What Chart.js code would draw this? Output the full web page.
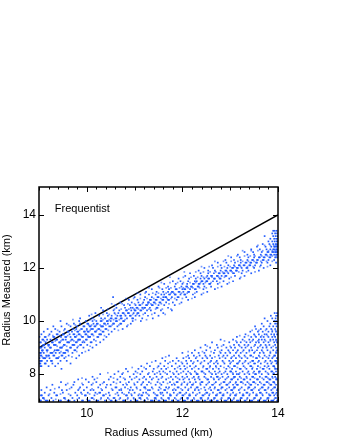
<!DOCTYPE html>
<html>
<head>
<meta charset="utf-8">
<style>
  html, body { margin: 0; padding: 0; background: #fff; }
  #wrap { width: 340px; height: 440px; }
</style>
<script src="https://cdn.jsdelivr.net/npm/chart.js@4/dist/chart.umd.min.js"></script>
</head>
<body>
<div id="wrap"><canvas id="c"></canvas></div>
<script>
const xTicks = [10, 12, 14];
const yTicks = [8, 10, 12, 14];
const xTitle = 'Radius Assumed (km)';
const yTitle = 'Radius Measured (km)';
const panelLabel = 'Frequentist';
const lineX = [9, 14];
const lineY = [9, 14];

// the measured radius comes in rows, so each cloud is kept per row:
// one measured value and the assumed values seen on that row
const bandRowY = [8.3,8.4,8.5,8.6,8.7,8.8,8.9,9.0,9.1,9.2,9.3,9.4,9.5,9.6,9.7,9.8,9.9,10.0,10.1,10.2,10.3,10.4,10.5,10.6,10.7,10.8,10.9,11.0,11.1,11.2,11.3,11.4,11.5,11.6,11.7,11.8,11.9,12.0,12.1,12.2,12.3,12.4,12.5,12.6,12.7,12.8,12.9,13.0,13.1,13.2,13.3,13.4];
const bandRowX = [
[9.03,9.05,9.2,9.34],
[9.01,9.03,9.12,9.14,9.28,9.4,9.66],
[9.02,9.04,9.06,9.17,9.25,9.27,9.45,9.58],
[9.01,9.09,9.11,9.13,9.22,9.36,9.38,9.4,9.53,9.78],
[9.03,9.05,9.15,9.19,9.21,9.3,9.32,9.47,9.49,9.62,9.84],
[9.02,9.04,9.1,9.24,9.26,9.28,9.35,9.43,9.51,9.53,9.55,9.7,9.9],
[9.06,9.08,9.16,9.18,9.33,9.37,9.39,9.41,9.57,9.6,9.74,9.76,10.04],
[9.01,9.03,9.05,9.12,9.23,9.25,9.44,9.46,9.48,9.65,9.67,9.8,9.93,10.12],
[9.09,9.11,9.19,9.21,9.31,9.33,9.35,9.52,9.54,9.7,9.72,9.74,9.86,9.88,10.01,10.2],
[9.02,9.04,9.14,9.27,9.29,9.42,9.44,9.59,9.61,9.63,9.77,9.79,9.91,9.95,10.08,10.1,10.28],
[9.07,9.09,9.17,9.24,9.36,9.38,9.49,9.51,9.56,9.68,9.7,9.82,9.84,9.86,9.98,10.0,10.15,10.35],
[9.01,9.12,9.14,9.3,9.32,9.46,9.55,9.57,9.66,9.75,9.77,9.9,9.92,10.03,10.05,10.07,10.22,10.24,10.41],
[9.05,9.22,9.37,9.39,9.5,9.52,9.64,9.72,9.74,9.83,9.85,9.97,9.99,10.1,10.12,10.26,10.28,10.3,10.46],
[9.1,9.26,9.43,9.6,9.62,9.69,9.8,9.82,9.94,9.96,10.02,10.04,10.17,10.19,10.33,10.35,10.52],
[9.18,9.34,9.54,9.71,9.78,9.88,9.9,10.0,10.09,10.11,10.13,10.24,10.26,10.39,10.41,10.58,10.75],
[9.3,9.47,9.66,9.8,9.93,9.95,10.06,10.08,10.16,10.18,10.3,10.32,10.34,10.47,10.5,10.64,10.84],
[9.58,9.73,9.86,10.01,10.03,10.14,10.21,10.23,10.36,10.38,10.44,10.55,10.57,10.7,10.72,10.92],
[9.45,9.84,9.98,10.12,10.2,10.29,10.31,10.42,10.44,10.5,10.61,10.63,10.76,10.78,10.96,11.13],
[9.86,10.12,10.3,10.38,10.5,10.52,10.6,10.62,10.71,10.73,10.84,10.95,10.97,11.16,11.38],
[10.05,10.26,10.44,10.52,10.64,10.7,10.72,10.81,10.9,10.92,11.02,11.1,11.28,11.5],
[10.18,10.42,10.58,10.66,10.75,10.77,10.86,10.88,10.98,11.06,11.08,11.22,11.42,11.6],
[10.34,10.56,10.68,10.82,10.84,10.93,11.0,11.02,11.12,11.14,11.26,11.34,11.55,11.78],
[10.3,10.62,10.8,10.92,10.96,11.04,11.06,11.16,11.2,11.22,11.32,11.46,11.48,11.7],
[10.6,10.78,10.9,11.02,11.1,11.12,11.24,11.26,11.36,11.38,11.5,11.62,11.84],
[10.7,10.94,11.08,11.18,11.28,11.3,11.4,11.42,11.52,11.54,11.66,11.8,11.98],
[10.88,11.06,11.2,11.32,11.34,11.44,11.46,11.58,11.6,11.7,11.72,11.88,12.12],
[10.55,11.0,11.22,11.36,11.48,11.5,11.6,11.64,11.66,11.78,11.9,11.92,12.08,12.26],
[11.12,11.3,11.44,11.56,11.62,11.72,11.74,11.84,11.86,11.96,12.04,12.06,12.22,12.4],
[11.24,11.46,11.6,11.7,11.78,11.8,11.92,11.94,12.02,12.12,12.14,12.3,12.52],
[11.36,11.58,11.72,11.86,11.88,12.0,12.04,12.06,12.16,12.26,12.28,12.44,12.68],
[11.5,11.7,11.84,11.98,12.08,12.1,12.18,12.2,12.32,12.34,12.46,12.6,12.82],
[11.62,11.86,12.0,12.1,12.22,12.24,12.34,12.36,12.44,12.56,12.58,12.74,12.94],
[11.8,11.96,12.12,12.26,12.3,12.4,12.42,12.5,12.52,12.64,12.72,12.86,13.06],
[11.92,12.14,12.28,12.38,12.46,12.54,12.56,12.66,12.68,12.78,12.8,12.98,13.2],
[12.06,12.24,12.4,12.52,12.6,12.62,12.72,12.74,12.82,12.9,12.92,13.1,13.3],
[12.16,12.38,12.54,12.66,12.76,12.78,12.86,12.88,12.96,13.06,13.08,13.24,13.44],
[12.34,12.54,12.68,12.8,12.9,12.92,13.0,13.02,13.12,13.14,13.26,13.38,13.6],
[12.46,12.64,12.82,12.94,13.04,13.06,13.14,13.16,13.24,13.34,13.36,13.5,13.7],
[12.62,12.8,12.96,13.08,13.18,13.2,13.28,13.3,13.4,13.42,13.52,13.64,13.84],
[12.74,12.92,13.1,13.22,13.32,13.34,13.42,13.44,13.54,13.56,13.66,13.78,13.96],
[12.9,13.08,13.22,13.36,13.46,13.48,13.56,13.58,13.68,13.7,13.8,13.92],
[13.02,13.2,13.38,13.5,13.6,13.62,13.7,13.72,13.82,13.84,13.94,13.98],
[13.16,13.36,13.5,13.64,13.74,13.76,13.84,13.86,13.92,13.96,13.99],
[13.3,13.48,13.66,13.78,13.8,13.88,13.9,13.94,13.97,13.99],
[13.44,13.62,13.76,13.84,13.9,13.92,13.96,13.98],
[13.56,13.74,13.86,13.92,13.94,13.97,13.99],
[13.68,13.82,13.9,13.95,13.98],
[13.8,13.88,13.93,13.97,13.99],
[13.84,13.92,13.96,13.98],
[13.72,13.9,13.95,13.99],
[13.88,13.94,13.98],
[13.9,13.93,13.97]
];

// fainter in-between rows of the upper cloud
const bandMidRowY = [8.65,8.85,9.05,9.25,9.45,9.65,9.85,10.05,10.25,10.45,10.65,10.85,11.05,11.25,11.45,11.65,11.85,12.05,12.25,12.45,12.65,12.85];
const bandMidRowX = [
[9.07,9.16,9.42,9.56,9.69],
[9.07,9.17,9.31,9.46,9.61,9.79,9.97],
[9.08,9.2,9.38,9.5,9.58,9.82,10.07],
[9.11,9.34,9.46,9.66,9.73,9.81,9.93,10.19],
[9.2,9.29,9.44,9.6,9.79,9.88,10.02,10.14,10.37],
[9.39,9.52,9.75,9.85,10.0,10.07,10.21,10.29,10.45,10.66],
[9.62,9.76,10.04,10.1,10.2,10.28,10.4,10.53,10.67,10.86],
[9.71,10.07,10.16,10.34,10.47,10.56,10.68,10.8,11.02,11.25],
[10.1,10.34,10.47,10.6,10.79,10.96,11.05,11.18,11.36,11.64],
[10.44,10.58,10.72,10.88,10.99,11.08,11.18,11.3,11.44,11.58,11.76],
[10.52,10.74,10.86,11.0,11.16,11.28,11.34,11.44,11.56,11.72,11.94],
[10.82,10.98,11.12,11.26,11.4,11.55,11.68,11.76,11.84,12.0,12.2],
[11.06,11.22,11.38,11.5,11.66,11.76,11.82,11.98,12.1,12.26,12.44],
[11.3,11.52,11.66,11.76,11.94,12.02,12.12,12.22,12.36,12.5,12.74],
[11.56,11.74,11.9,12.02,12.16,12.28,12.38,12.48,12.6,12.78,12.98],
[11.74,12.02,12.18,12.32,12.44,12.5,12.62,12.76,12.88,13.02,13.22],
[12.04,12.28,12.44,12.58,12.7,12.84,12.94,13.04,13.18,13.34,13.52],
[12.4,12.56,12.74,12.88,13.0,13.1,13.22,13.36,13.48,13.62,13.78],
[12.68,12.86,13.02,13.16,13.26,13.38,13.5,13.64,13.76,13.88],
[12.96,13.14,13.3,13.42,13.52,13.66,13.78,13.88,13.96],
[13.26,13.44,13.58,13.68,13.8,13.88,13.94,13.98],
[13.58,13.72,13.84,13.91,13.96,13.99]
];

const lowRowY = [7.0,7.1,7.2,7.3,7.4,7.5,7.6,7.7,7.8,7.9,8.0,8.1,8.2,8.3,8.4,8.5,8.6,8.7,8.8,8.9,9.0,9.1,9.2,9.3,9.4,9.5,9.6,9.7,9.8,9.9,10.0,10.1,10.2,10.3];
const lowRowX = [
[9.02,9.04,9.14,9.16,9.18,9.3,9.44,9.46,9.6,9.62,9.64,9.74,9.9,9.92,10.04,10.06,10.2,10.22,10.24,10.38,10.5,10.52,10.6,10.62,10.76,10.78,10.8,10.92,11.02,11.04,11.06,11.2,11.22,11.34,11.36,11.38,11.5,11.52,11.62,11.64,11.66,11.78,11.8,11.9,11.92,12.02,12.04,12.06,12.18,12.2,12.3,12.32,12.34,12.46,12.48,12.58,12.6,12.62,12.72,12.74,12.88,12.9,12.92,13.02,13.04,13.14,13.16,13.18,13.3,13.32,13.42,13.44,13.46,13.58,13.6,13.7,13.72,13.74,13.86,13.88,13.9,13.98],
[9.08,9.1,9.26,9.52,9.54,9.7,9.84,10.1,10.12,10.3,10.44,10.56,10.58,10.7,10.86,10.98,11.1,11.12,11.26,11.42,11.44,11.56,11.7,11.72,11.84,11.98,12.1,12.12,12.24,12.38,12.4,12.54,12.66,12.68,12.82,12.96,12.98,13.08,13.22,13.24,13.36,13.5,13.52,13.64,13.78,13.8,13.94,13.96],
[9.04,9.06,9.2,9.36,9.38,9.66,9.8,9.96,9.98,10.16,10.34,10.36,10.48,10.66,10.82,10.84,10.94,11.08,11.14,11.16,11.3,11.46,11.48,11.6,11.74,11.76,11.88,12.0,12.02,12.14,12.16,12.28,12.42,12.44,12.56,12.7,12.72,12.84,12.86,13.0,13.1,13.12,13.26,13.28,13.4,13.54,13.56,13.68,13.82,13.84,13.92,13.99],
[9.12,9.32,9.5,9.76,9.88,10.02,10.18,10.26,10.28,10.46,10.64,10.74,10.88,11.0,11.18,11.24,11.4,11.54,11.58,11.68,11.82,11.94,11.96,12.08,12.22,12.36,12.5,12.52,12.64,12.78,12.8,12.94,13.06,13.2,13.34,13.36,13.48,13.62,13.64,13.76,13.88,13.9,13.97],
[9.05,9.24,9.48,9.58,9.82,9.94,10.08,10.14,10.32,10.54,10.68,10.72,10.9,10.96,11.12,11.28,11.32,11.5,11.62,11.64,11.8,11.86,12.0,12.12,12.26,12.34,12.48,12.6,12.74,12.76,12.9,13.02,13.04,13.18,13.3,13.44,13.46,13.6,13.72,13.74,13.86,13.98],
[9.16,9.42,9.68,9.86,10.0,10.24,10.4,10.6,10.62,10.8,10.92,11.04,11.2,11.22,11.36,11.52,11.66,11.72,11.9,11.92,12.06,12.18,12.3,12.32,12.46,12.58,12.68,12.82,12.84,12.98,13.08,13.1,13.24,13.38,13.4,13.52,13.66,13.68,13.8,13.92,13.94],
[9.28,9.56,9.72,9.92,10.1,10.28,10.42,10.5,10.76,10.84,11.0,11.14,11.26,11.44,11.56,11.78,11.84,11.98,12.1,12.2,12.22,12.38,12.5,12.62,12.64,12.78,12.92,12.94,13.06,13.14,13.16,13.32,13.42,13.44,13.58,13.7,13.72,13.84,13.86,13.96],
[9.46,9.74,10.04,10.2,10.36,10.56,10.7,10.88,11.06,11.18,11.3,11.48,11.6,11.74,11.88,11.9,12.04,12.16,12.28,12.4,12.42,12.56,12.7,12.86,12.88,13.0,13.12,13.22,13.24,13.36,13.48,13.5,13.62,13.76,13.78,13.9,13.92],
[9.82,9.98,10.16,10.46,10.64,10.8,10.94,11.1,11.24,11.36,11.5,11.66,11.8,11.94,12.02,12.14,12.26,12.36,12.52,12.54,12.66,12.76,12.9,13.02,13.04,13.16,13.28,13.3,13.42,13.56,13.58,13.7,13.82,13.84,13.96,13.98],
[10.12,10.5,10.7,10.9,11.04,11.2,11.32,11.46,11.58,11.76,11.86,12.0,12.1,12.24,12.34,12.46,12.6,12.72,12.74,12.84,12.96,13.08,13.1,13.2,13.34,13.46,13.48,13.62,13.74,13.76,13.88,13.94],
[10.28,10.58,10.74,10.98,11.12,11.28,11.42,11.54,11.68,11.82,11.92,12.08,12.18,12.3,12.32,12.48,12.62,12.7,12.82,12.94,13.06,13.14,13.18,13.3,13.4,13.52,13.54,13.66,13.8,13.9,13.92,13.99],
[10.66,10.86,11.02,11.16,11.38,11.52,11.6,11.74,11.88,12.02,12.12,12.26,12.4,12.42,12.56,12.68,12.78,12.9,13.0,13.02,13.12,13.26,13.38,13.5,13.6,13.62,13.74,13.86,13.88,13.96],
[9.47,10.82,11.08,11.24,11.4,11.56,11.66,11.84,11.96,12.06,12.2,12.34,12.5,12.52,12.64,12.76,12.92,13.04,13.2,13.22,13.34,13.46,13.56,13.68,13.7,13.82,13.94,13.98],
[11.14,11.32,11.5,11.62,11.78,11.94,12.04,12.16,12.28,12.44,12.58,12.7,12.8,12.96,13.08,13.1,13.28,13.42,13.44,13.58,13.72,13.8,13.9,13.92],
[11.26,11.54,11.7,11.86,12.0,12.1,12.22,12.38,12.54,12.66,12.74,12.88,13.0,13.14,13.16,13.26,13.38,13.5,13.52,13.64,13.78,13.86,13.97],
[11.44,11.64,11.8,11.92,12.08,12.18,12.32,12.46,12.6,12.72,12.84,12.98,13.06,13.2,13.32,13.46,13.48,13.6,13.74,13.84,13.94,13.96],
[11.58,11.88,12.02,12.14,12.28,12.42,12.52,12.62,12.78,12.9,13.02,13.12,13.24,13.36,13.54,13.56,13.68,13.8,13.88,13.98],
[11.72,12.12,12.24,12.36,12.48,12.58,12.76,12.86,12.94,13.08,13.18,13.3,13.42,13.44,13.6,13.72,13.82,13.92,13.94],
[12.0,12.2,12.34,12.46,12.66,12.8,12.9,13.0,13.12,13.22,13.34,13.5,13.62,13.7,13.84,13.96],
[12.26,12.5,12.68,12.82,12.96,13.06,13.16,13.28,13.4,13.46,13.56,13.66,13.78,13.9,13.98],
[12.38,12.58,12.74,12.92,13.02,13.1,13.24,13.32,13.44,13.58,13.68,13.76,13.86,13.96],
[12.48,12.72,12.86,13.08,13.18,13.3,13.38,13.52,13.64,13.74,13.82,13.94],
[12.62,12.98,13.14,13.22,13.34,13.42,13.54,13.6,13.7,13.8,13.92,13.98],
[12.8,13.06,13.26,13.4,13.48,13.6,13.66,13.72,13.84,13.9,13.96],
[13.14,13.3,13.44,13.54,13.64,13.7,13.8,13.88,13.94],
[13.32,13.5,13.6,13.72,13.76,13.86,13.92,13.98],
[13.42,13.58,13.68,13.8,13.88,13.96],
[13.54,13.64,13.76,13.86,13.94],
[13.52,13.7,13.82,13.9,13.97],
[13.66,13.84,13.94,13.98],
[13.78,13.92,13.96],
[13.72,13.88,13.95],
[13.85,13.96,13.99],
[13.93,13.98]
];

// fainter in-between rows of the lower cloud
const lowMidRowY = [7.05,7.25,7.45,7.65,7.85,8.05,8.25,8.45,8.65,8.85,9.05,9.25,9.45,9.65];
const lowMidRowX = [
[9.11,9.35,9.55,9.8,10.0,10.15,10.29,10.47,10.68,10.85,10.99,11.13,11.28,11.45,11.58,11.72,11.87,11.96,12.11,12.25,12.39,12.53,12.66,12.8,12.95,13.07,13.21,13.35,13.49,13.63,13.77,13.92],
[9.22,9.45,9.62,9.9,10.06,10.22,10.4,10.6,10.78,10.93,11.1,11.27,11.43,11.55,11.74,11.9,12.05,12.15,12.31,12.47,12.57,12.73,12.86,13.01,13.13,13.27,13.41,13.55,13.67,13.81,13.95],
[9.33,9.64,9.84,10.11,10.3,10.52,10.72,10.86,11.05,11.23,11.38,11.55,11.7,11.83,11.97,12.13,12.27,12.39,12.55,12.67,12.81,12.93,13.07,13.21,13.37,13.49,13.63,13.79,13.89,13.99],
[9.6,9.9,10.13,10.33,10.62,10.82,10.99,11.16,11.34,11.53,11.69,11.82,11.99,12.11,12.23,12.37,12.53,12.67,12.81,12.97,13.11,13.27,13.39,13.53,13.65,13.81,13.93],
[9.9,10.22,10.56,10.77,11.0,11.17,11.39,11.56,11.71,11.9,12.05,12.21,12.33,12.49,12.65,12.79,12.93,13.07,13.23,13.35,13.51,13.67,13.79,13.89,13.97],
[10.44,10.76,11.06,11.3,11.47,11.64,11.8,11.97,12.16,12.29,12.45,12.59,12.75,12.87,13.05,13.2,13.36,13.48,13.6,13.78,13.91],
[10.95,11.2,11.48,11.7,11.9,12.1,12.25,12.43,12.57,12.71,12.87,12.99,13.15,13.31,13.47,13.63,13.77,13.93],
[11.36,11.74,11.98,12.24,12.4,12.58,12.7,12.86,13.02,13.18,13.3,13.42,13.58,13.72,13.88,13.98],
[11.65,12.08,12.3,12.5,12.68,12.84,13.04,13.2,13.32,13.48,13.62,13.76,13.9],
[12.12,12.42,12.6,12.78,12.98,13.14,13.26,13.4,13.52,13.68,13.84,13.96],
[12.52,12.82,13.0,13.2,13.36,13.5,13.62,13.76,13.9],
[12.88,13.12,13.3,13.46,13.58,13.74,13.84,13.96],
[13.2,13.38,13.52,13.66,13.78,13.92],
[13.46,13.6,13.74,13.88,13.95]
];

const frame = {
  id: 'frame',
  afterDatasetsDraw(chart) {
    const { ctx, chartArea: a, scales: { x, y } } = chart;
    ctx.save();
    ctx.strokeStyle = '#000';
    ctx.lineWidth = 1;
    ctx.beginPath();
    // ticks point inward on all four sides
    for (let v = 0; v <= 25; v++) {
      const px = Math.round(x.getPixelForValue(9 + v / 5)) + 0.5;
      const len = v % 10 === 5 ? 5 : v % 5 === 0 ? 3.5 : 2.5;
      ctx.moveTo(px, a.top); ctx.lineTo(px, a.top + len);
      ctx.moveTo(px, a.bottom); ctx.lineTo(px, a.bottom - len);
    }
    yTicks.forEach(v => {
      const py = Math.round(y.getPixelForValue(v)) + 0.5;
      ctx.moveTo(a.left, py); ctx.lineTo(a.left + 5, py);
      ctx.moveTo(a.right, py); ctx.lineTo(a.right - 5, py);
    });
    ctx.stroke();
    ctx.lineWidth = 1.5;
    ctx.strokeRect(a.left, a.top, a.right - a.left, a.bottom - a.top);
    ctx.fillStyle = '#000';
    ctx.font = '11px "Liberation Sans"';
    ctx.textBaseline = 'middle';
    ctx.fillText(panelLabel, x.getPixelForValue(9.33), y.getPixelForValue(14.22));
    // y title sits a little above the middle of the frame
    ctx.translate(7, 290);
    ctx.rotate(-Math.PI / 2);
    ctx.textAlign = 'center';
    ctx.fillText(yTitle, 0, 0);
    ctx.restore();
  }
};

const fromRows = (rowY, rowX) => rowX.flatMap((xs, i) => xs.map(v => ({ x: v, y: rowY[i] })));
const dots = (pts, color) => ({
  type: 'scatter',
  data: pts,
  pointStyle: 'rect',
  pointRadius: 1.2,
  pointBorderWidth: 0,
  backgroundColor: color
});

new Chart(document.getElementById('c'), {
  data: {
    datasets: [
      dots(fromRows(bandMidRowY, bandMidRowX), 'rgba(25,85,255,0.6)'),
      dots(fromRows(lowMidRowY, lowMidRowX), 'rgba(25,85,255,0.6)'),
      dots(fromRows(bandRowY, bandRowX), 'rgba(25,85,255,0.95)'),
      dots(fromRows(lowRowY, lowRowX), 'rgba(25,85,255,0.95)'),
      {
        type: 'line',
        data: lineX.map((v, i) => ({ x: v, y: lineY[i] })),
        borderColor: '#000',
        borderWidth: 1.6,
        pointRadius: 0
      }
    ]
  },
  options: {
    responsive: true,
    maintainAspectRatio: false,
    animation: false,
    layout: { padding: { top: 187, right: 62, left: 0, bottom: 0 } },
    plugins: { legend: { display: false }, tooltip: { enabled: false } },
    scales: {
      x: {
        type: 'linear',
        min: 9,
        max: 14,
        grid: { display: false, drawTicks: false },
        border: { display: false },
        afterBuildTicks: s => { s.ticks = xTicks.map(v => ({ value: v })); },
        afterFit: s => { s.height = 38; },
        ticks: { color: '#000', padding: 4, maxRotation: 0, font: { family: 'Liberation Sans', size: 12 } },
        title: { display: true, text: xTitle, color: '#000', padding: { top: 0, bottom: 0 }, font: { family: 'Liberation Sans', size: 11 } }
      },
      y: {
        type: 'linear',
        min: 6.95,
        max: 15.05,
        grid: { display: false, drawTicks: false },
        border: { display: false },
        afterBuildTicks: s => { s.ticks = yTicks.map(v => ({ value: v })); },
        afterFit: s => { s.width = 39; },
        ticks: { color: '#000', padding: 3, font: { family: 'Liberation Sans', size: 12 } }
      }
    }
  },
  plugins: [frame]
});
</script>
</body>
</html>
